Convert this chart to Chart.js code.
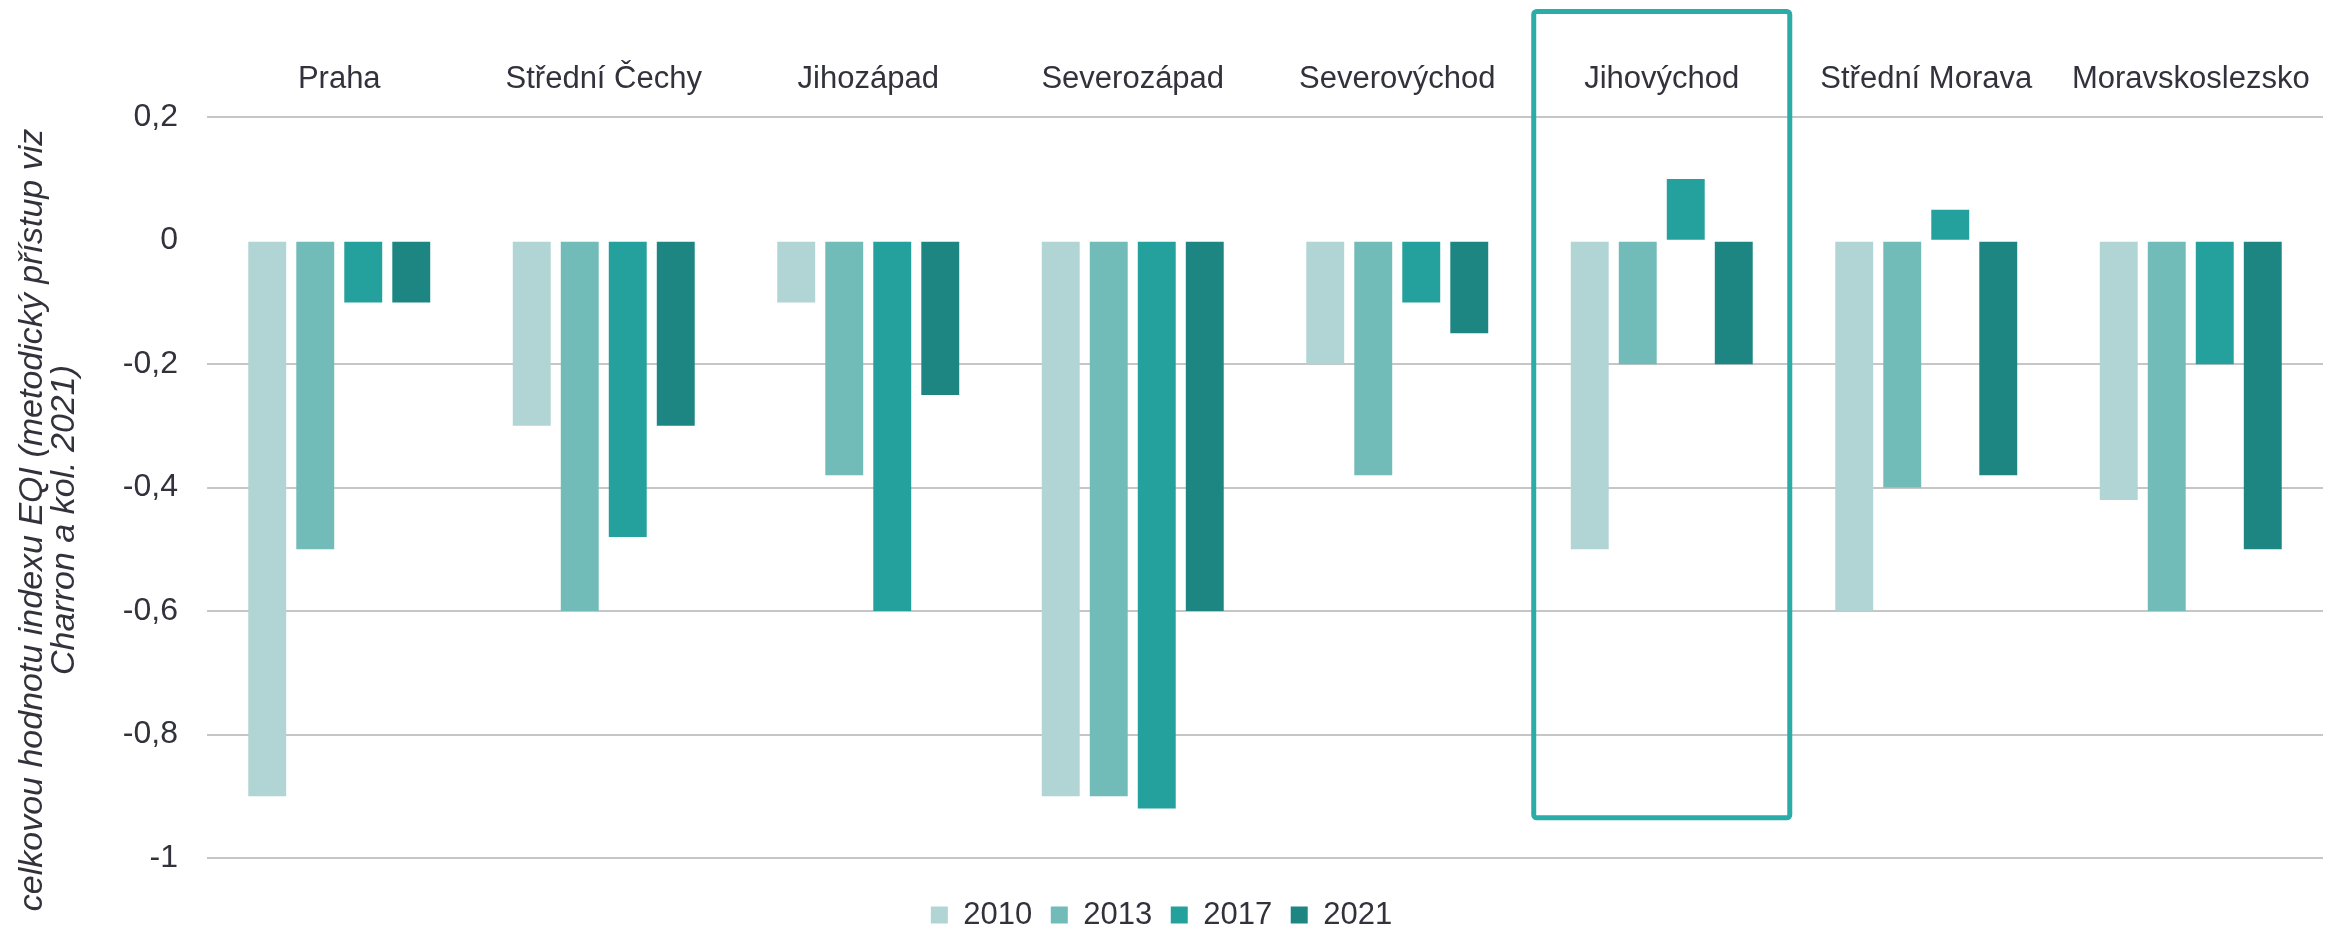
<!DOCTYPE html>
<html>
<head>
<meta charset="utf-8">
<script src="https://cdn.jsdelivr.net/npm/chart.js@4"></script>
<style>
  html, body { margin: 0; padding: 0; background: #fff; }
  #wrap { width: 2332px; height: 928px; }
</style>
</head>
<body>
<div id="wrap"><canvas id="eqi"></canvas></div>
<script>
const categories = ['Praha', 'Střední Čechy', 'Jihozápad', 'Severozápad', 'Severovýchod', 'Jihovýchod', 'Střední Morava', 'Moravskoslezsko'];
const years = ['2010', '2013', '2017', '2021'];
const values2010 = [-0.9, -0.3, -0.1, -0.9, -0.2, -0.5, -0.6, -0.42];
const values2013 = [-0.5, -0.6, -0.38, -0.9, -0.38, -0.2, -0.4, -0.6];
const values2017 = [-0.1, -0.48, -0.6, -0.92, -0.1, 0.1, 0.05, -0.2];
const values2021 = [-0.1, -0.3, -0.25, -0.6, -0.15, -0.2, -0.38, -0.5];
const yTicks = [0.2, 0, -0.2, -0.4, -0.6, -0.8, -1];
const colors = ['#b1d4d4', '#71bbb8', '#24a09d', '#1d8683'];
const yTitle = ['celkovou hodnotu indexu EQI (metodický přístup viz', 'Charron a kol. 2021)'];
const highlighted = 'Jihovýchod';

const textColor = '#32323c';
const fontFamily = "'Liberation Sans', Arial, sans-serif";
const series = [values2010, values2013, values2017, values2021];

// y axis title, drawn by hand so it can sit lower than the axis middle
const yTitlePlugin = {
  id: 'yTitle',
  afterDraw(chart) {
    const ctx = chart.ctx;
    ctx.save();
    ctx.font = `italic 34px ${fontFamily}`;
    ctx.fillStyle = textColor;
    ctx.textAlign = 'center';
    ctx.textBaseline = 'middle';
    const xs = [33, 65];
    yTitle.forEach((line, i) => {
      ctx.save();
      ctx.translate(xs[i], 520);
      ctx.rotate(-Math.PI / 2);
      ctx.fillText(line, 0, 0);
      ctx.restore();
    });
    ctx.restore();
  }
};

// frame round the highlighted region
const framePlugin = {
  id: 'frame',
  afterDraw(chart) {
    const xs = chart.scales.x, ys = chart.scales.y;
    const idx = categories.indexOf(highlighted);
    const c = xs.getPixelForValue(idx);
    const half = (xs.getPixelForValue(1) - xs.getPixelForValue(0)) / 2 * 0.968;
    const top = 11.5;
    const bottom = ys.getPixelForValue(-0.935);
    const ctx = chart.ctx;
    ctx.save();
    ctx.strokeStyle = '#2aaca8';
    ctx.lineWidth = 5;
    ctx.beginPath();
    ctx.roundRect(c - half, top, half * 2, bottom - top, 3);
    ctx.stroke();
    ctx.restore();
  }
};

Chart.defaults.font.family = fontFamily;
Chart.defaults.color = textColor;

new Chart(document.getElementById('eqi'), {
  type: 'bar',
  data: {
    labels: categories,
    datasets: years.map((y, i) => ({
      label: y,
      data: series[i],
      backgroundColor: colors[i],
      borderWidth: 0,
      categoryPercentage: 0.726,
      barPercentage: 0.79
    }))
  },
  options: {
    responsive: true,
    maintainAspectRatio: false,
    animation: false,
    devicePixelRatio: 1,
    layout: { padding: { top: 50, right: 9, bottom: 0, left: 0 } },
    plugins: {
      tooltip: { enabled: false },
      legend: {
        position: 'bottom',
        maxHeight: 70,
        title: { display: true, text: '', font: { size: 10 }, padding: { top: 11, bottom: 0 } },
        labels: {
          boxWidth: 17,
          boxHeight: 17,
          padding: 18.5,
          color: textColor,
          font: { size: 31 }
        }
      }
    },
    scales: {
      x: {
        position: 'top',
        grid: { display: false },
        border: { display: false },
        ticks: { padding: 11, color: textColor, font: { size: 31 } }
      },
      y: {
        min: -1,
        max: 0.2,
        afterFit: s => { s.width = 207; },
        afterBuildTicks: s => { s.ticks = yTicks.map(v => ({ value: v })); },
        border: { display: false },
        grid: {
          drawTicks: false,
          lineWidth: 2,
          color: ctx => Math.abs(ctx.tick.value) < 1e-9 ? 'rgba(0,0,0,0)' : '#c6c6c6'
        },
        ticks: {
          padding: 29,
          color: textColor,
          font: { size: 32 },
          callback: v => String(Math.round(v * 10) / 10).replace('.', ',')
        }
      }
    }
  },
  plugins: [yTitlePlugin, framePlugin]
});
</script>
</body>
</html>
